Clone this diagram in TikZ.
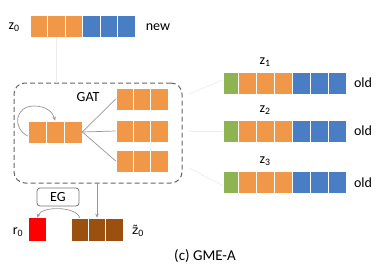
\documentclass[tikz,border=0pt]{standalone}
\usepackage{fontspec}
\setmainfont{Carlito}
\newfontfamily\dejavu{DejaVu Sans}
\usetikzlibrary{arrows.meta}
\definecolor{orng}{RGB}{241,151,72}
\definecolor{blu}{RGB}{74,126,196}
\definecolor{grn}{RGB}{141,180,80}
\definecolor{brwn}{RGB}{155,80,15}
\definecolor{lnk}{RGB}{150,150,150}
\begin{document}
\begin{tikzpicture}[x=1pt,y=-1pt,
  cell/.style={draw=white, line width=0.7pt, minimum width=17.5pt, minimum height=22pt, inner sep=0pt},
  lbl/.style={font=\fontsize{14}{16}\selectfont, inner sep=0pt},
  conn/.style={draw=lnk, line width=0.7pt},
  arr/.style={conn, -{Stealth[length=4pt,width=3.5pt]}},
  faint/.style={draw=black!7, line width=0.7pt},
  dbox/.style={draw=black!60, dashed, dash pattern=on 5pt off 3pt, line width=1pt, rounded corners=11pt, minimum width=168pt, minimum height=100pt, inner sep=0pt},
  egbox/.style={draw=black!55, line width=0.8pt, rounded corners=3pt, minimum width=42pt, minimum height=18pt, inner sep=0pt, font=\fontsize{14}{16}\selectfont}]
\useasboundingbox (0,0) rectangle (385,276);
% top row z0
\foreach \i in {0,1,2} \node[cell, fill=orng] (t\i) at ({38.75+17.5*\i},26) {};
\foreach \i in {3,4,5} \node[cell, fill=blu] (t\i) at ({38.75+17.5*\i},26) {};
\node[lbl] (z0) at (14,27) {z\textsubscript{0}};
\node[lbl] (new) at (158,27) {new};
% dashed box
\node[dbox] (box) at (98,133) {};
\node[lbl] (gat) at (88,97) {GAT};
% faint line from top row to box
\draw[faint] (t1.south) -- (t1.south |- box.north);
% left node
\foreach \i in {0,1,2} \node[cell, fill=orng, minimum width=18pt] (c\i) at ({37+18*\i},132) {};
% right nodes in box
\foreach \r/\y in {ra/99,rb/131,rc/161}{
  \foreach \i in {0,1,2} \node[cell, fill=orng, minimum width=17.3pt] (\r\i) at ({124.7+17.3*\i},\y) {};
}
\draw[conn] (c2.east) -- (ra0.west);
\draw[conn] (c2.east) -- (rb0.west);
\draw[conn] (c2.east) -- (rc0.west);
% self loop
\draw[arr] ([yshift=-4pt]c0.west) .. controls (12,128) and (15,106) .. (34,106)
   .. controls (46,106) and (53,112) .. (c1.north);
% right rows
\foreach \k/\y in {1/83,2/131,3/182.5}{
  \node[cell, fill=grn, minimum width=15pt] (g\k) at (230.5,\y) {};
  \foreach \i in {0,1,2} \node[cell, fill=orng, minimum width=18pt] (o\k\i) at ({247+18*\i},\y) {};
  \foreach \i in {0,1,2} \node[cell, fill=blu, minimum width=18pt] (u\k\i) at ({301+18*\i},\y) {};
  \node[lbl] (zl\k) at (265,{\y-21}) {z\textsubscript{\k}};
  \node[lbl] (old\k) at (363,\y) {old};
}
% faint connectors from box to rows
\coordinate (p1) at (189,94);
\coordinate (p2) at (189,131);
\coordinate (p3) at (189,168);
\draw[faint] (p1) -- ([yshift=3pt]g1.west);
\draw[faint] (p2) -- (g2.west);
\draw[faint] (p3) -- ([yshift=-3pt]g3.west);
% bottom
\node[egbox] (eg) at (58,197) {EG};
\node[cell, fill=red, draw=none, minimum width=17pt, minimum height=23pt] (r) at (37.5,229.5) {};
\foreach \i in {0,1,2} \node[cell, fill=brwn, minimum width=17.3pt, minimum height=23pt] (w\i) at ({79.7+17.3*\i},229.5) {};
\node[lbl] (r0) at (18,232) {r\textsubscript{0}};
\node[lbl] (zt0) at (138,231) {{\dejavu\fontsize{12}{14}\selectfont z^^^^0303}\textsubscript{0}};
\draw[arr] (w0.north) .. controls (76,206) and (41,206) .. (r.north);
\draw[arr] (w1.north |- box.south) -- (w1.north);
\node[lbl, font=\fontsize{15}{17}\selectfont] (cap) at (205,256) {(c) GME-A};
\end{tikzpicture}
\end{document}
